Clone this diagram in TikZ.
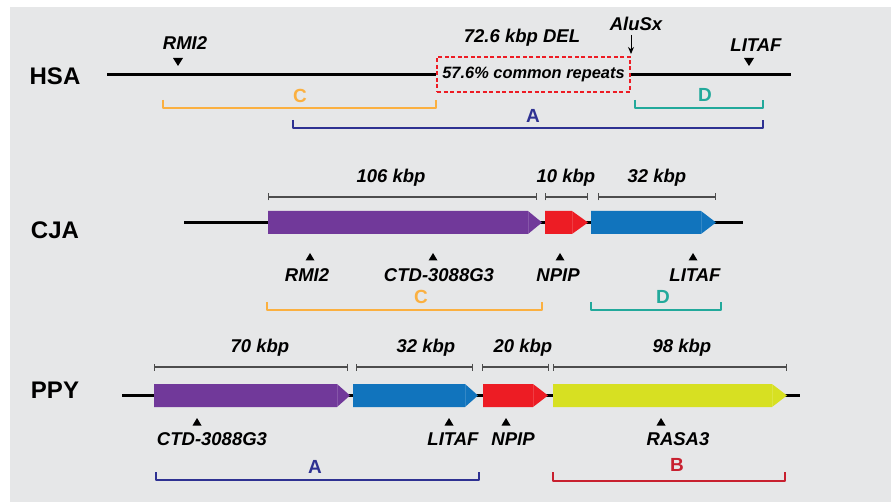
\documentclass[tikz,border=0pt]{standalone}
\usepackage{fontspec}
\setmainfont{Liberation Sans}
\usetikzlibrary{arrows.meta}
\definecolor{bgc}{HTML}{E6E7E8}
\definecolor{gpurple}{HTML}{71399A}
\definecolor{gred}{HTML}{ED1C24}
\definecolor{gblue}{HTML}{1174BD}
\definecolor{gyellow}{HTML}{D7E022}
\definecolor{corange}{HTML}{FBB040}
\definecolor{cteal}{HTML}{22A99B}
\definecolor{cblue}{HTML}{2E3192}
\definecolor{cred}{HTML}{C8202F}
\definecolor{sbar}{HTML}{4D4D4D}
\newcommand{\genearr}[5]{% x1, xbody, xtip, yc, colour
  \fill[#5] (#1,#4-11.5) -- (#2,#4-11.5) -- (#3,#4) -- (#2,#4+11.5) -- (#1,#4+11.5) -- cycle;
  \draw[white, opacity=0.15, line width=0.5pt] (#2,#4-11.5) -- (#2,#4+11.5);}
\newcommand{\uptri}[2]{\fill[black] (#1-4.5,#2+3.5) -- (#1+4.5,#2+3.5) -- (#1,#2-4) -- cycle;}
\newcommand{\dntri}[2]{\fill[black] (#1-5,#2-4) -- (#1+5,#2-4) -- (#1,#2+4) -- cycle;}
\newcommand{\brk}[5]{% x1, x2, ytop, ybot, colour
  \draw[#5, line width=2.5pt, line join=round] (#1,#3) -- (#1,#4) -- (#2,#4) -- (#2,#3);}
\tikzset{
  species/.style={font=\bfseries\fontsize{24}{24}\selectfont, inner sep=0pt},
  glabel/.style={font=\bfseries\itshape\fontsize{18.5}{18.5}\selectfont, inner sep=0pt},
  blabel/.style={font=\bfseries\fontsize{19}{19}\selectfont, inner sep=0pt},
  chrom/.style={black, line width=2.8pt},
  scalebar/.style={sbar, line width=1.2pt, {Bar[width=7pt]}-{Bar[width=7pt]}},
  delbox/.style={draw=gred, dashed, dash pattern=on 4pt off 2.5pt, line width=1.3pt,
    minimum width=193pt, minimum height=35pt, inner sep=0pt,
    font=\bfseries\itshape\fontsize{16.4}{16.4}\selectfont}
}
\begin{document}
\begin{tikzpicture}[x=1pt,y=-1pt]
\useasboundingbox (0,0) rectangle (891,502);
\fill[white] (0,0) rectangle (891,502);
\fill[bgc] (10,7) rectangle (891,502);

% ---------------- HSA ----------------
\node[species] (hsa) at (55,76) {HSA};
\coordinate (hsaL) at (107,74.5);
\coordinate (hsaR) at (791,74.5);
\node[delbox] (del) at (533.5,74.5) {57.6\% common repeats};
\draw[chrom] (hsaL) -- (del.west);
\draw[chrom] (del.east) -- (hsaR);
\node[glabel] (dellbl) at (522,38) {72.6 kbp DEL};
\node[glabel] (alu) at (636,24) {AluSx};
\coordinate (aluTop) at (631,35);
\coordinate (aluBot) at (631,54);
\draw[black, line width=1pt, -{Stealth[length=7pt,width=6pt]}] (aluTop) -- (aluBot);
\node[glabel] (hrmi) at (185,43) {RMI2};
\dntri{178}{62}
\node[glabel] (hlitaf) at (756,45) {LITAF};
\dntri{749}{62}
\brk{163}{436}{100}{108}{corange}
\node[blabel, text=corange] (hC) at (300,96) {C};
\brk{635}{763}{100}{108}{cteal}
\node[blabel, text=cteal] (hD) at (705,95) {D};
\brk{293}{763}{120}{128}{cblue}
\node[blabel, text=cblue] (hA) at (533,116) {A};

% ---------------- CJA ----------------
\node[species] (cja) at (55,230) {CJA};
\coordinate (cjaL) at (184,222.5);
\coordinate (cjaR) at (743,222.5);
\draw[chrom] (cjaL) -- (cjaR);
\genearr{268}{528}{542}{222.5}{gpurple}
\genearr{545}{572}{588}{222.5}{gred}
\genearr{591}{701}{716}{222.5}{gblue}
\draw[scalebar] (268,197) -- (537,197);
\draw[scalebar] (545,197) -- (588,197);
\draw[scalebar] (598,197) -- (716,197);
\node[glabel] (c106) at (391,178) {106 kbp};
\node[glabel] (c10) at (566,178) {10 kbp};
\node[glabel] (c32) at (657,178) {32 kbp};
\uptri{310}{257}
\uptri{433}{257}
\uptri{560}{257}
\uptri{693}{257}
\node[glabel] (crmi) at (307,275) {RMI2};
\node[glabel] (cctd) at (439,275) {CTD-3088G3};
\node[glabel] (cnpip) at (558,275) {NPIP};
\node[glabel] (clitaf) at (695,275) {LITAF};
\brk{267}{542}{302}{310}{corange}
\node[blabel, text=corange] (cC) at (421,296.5) {C};
\brk{591}{721}{302}{310}{cteal}
\node[blabel, text=cteal] (cD) at (663,297) {D};

% ---------------- PPY ----------------
\node[species] (ppy) at (55,390) {PPY};
\coordinate (ppyL) at (122,395.5);
\coordinate (ppyR) at (800,395.5);
\draw[chrom] (ppyL) -- (ppyR);
\genearr{154}{337}{350}{395.5}{gpurple}
\genearr{353}{465}{478}{395.5}{gblue}
\genearr{483}{533}{548}{395.5}{gred}
\genearr{553}{772}{787}{395.5}{gyellow}
\draw[scalebar] (154,367) -- (348,367);
\draw[scalebar] (356,367) -- (473,367);
\draw[scalebar] (482,367) -- (549,367);
\draw[scalebar] (553,367) -- (787,367);
\node[glabel] (p70) at (260,348) {70 kbp};
\node[glabel] (p32) at (426,348) {32 kbp};
\node[glabel] (p20) at (523,348) {20 kbp};
\node[glabel] (p98) at (682,348) {98 kbp};
\uptri{197}{422}
\uptri{449}{422}
\uptri{506}{422}
\uptri{661}{422}
\node[glabel] (pctd) at (212,439) {CTD-3088G3};
\node[glabel] (plitaf) at (453,439) {LITAF};
\node[glabel] (pnpip) at (513,439) {NPIP};
\node[glabel] (prasa) at (678,439) {RASA3};
\brk{156}{479}{472}{480}{cblue}
\node[blabel, text=cblue] (pA) at (315,467) {A};
\brk{553}{785}{472}{481}{cred}
\node[blabel, text=cred] (pB) at (677,465) {B};
\end{tikzpicture}
\end{document}
